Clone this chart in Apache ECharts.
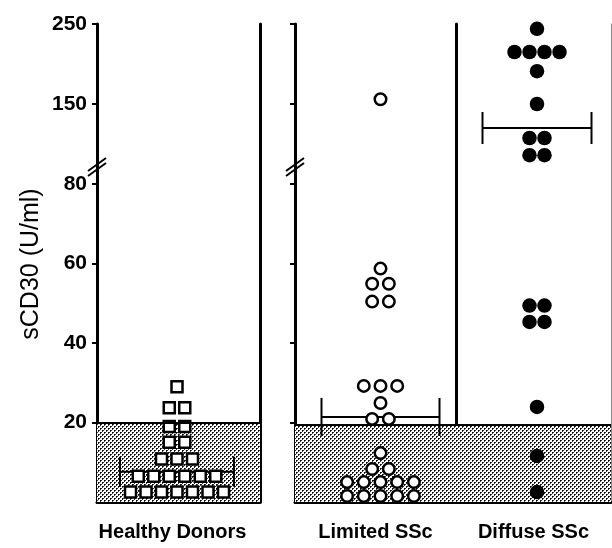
<!DOCTYPE html>
<html>
<head>
<meta charset="utf-8">
<script src="https://cdn.jsdelivr.net/npm/echarts@6/dist/echarts.min.js"></script>
<style>
  html, body { margin: 0; padding: 0; background: #fff; }
  #chart { width: 612px; height: 548px; }
</style>
</head>
<body>
<div id="chart"></div>
<script>
// values (U/ml), one entry per subject
var groupNames = ['Healthy Donors', 'Limited SSc', 'Diffuse SSc']
var healthyValues = [2.5, 2.5, 2.5, 2.5, 2.5, 2.5, 2.5, 6.5, 6.5, 6.5, 6.5, 6.5, 6.5,
  10.8, 10.8, 10.8, 15, 15, 19, 19, 23.7, 23.7, 29]
var limitedValues = [1.5, 1.5, 1.5, 1.5, 1.5, 5, 5, 5, 5, 5, 8.3, 8.3, 12.3,
  20.9, 20.9, 24.9, 29.2, 29.2, 29.2, 50.4, 50.4, 54.9, 54.9, 58.7, 156]
var diffuseValues = [2.5, 11.6, 23.9, 45.3, 45.3, 49.4, 49.4, 86, 86, 107.5, 107.5,
  150, 191, 215, 215, 215, 215, 244]
var meanValues = [7.6, 21.4, 120]
var normalLimits = [20, 19.5, 19.5]
var upperTicks = [150, 250]
var lowerTicks = [20, 40, 60, 80]

// axis break: lower part 0..84, upper part 70..250
var lowerMax = 84
var upperMin = 70
var upperMax = 250

var panels = [
  {left: 97, width: 163, center: 80, spacing: 15.5, symbol: 'rect', size: 11, fill: '#fff', border: 2.5, barHalf: 57, capHalf: 15},
  {left: 295, width: 161, center: 85.5, spacing: 16.7, symbol: 'circle', size: 11.5, fill: '#fff', border: 2.5, barHalf: 59, capHalf: 19},
  {left: 456, width: 155, center: 81, spacing: 15, symbol: 'circle', size: 14.5, fill: '#000', border: 0, barHalf: 54.5, capHalf: 16}
]
var plotTop = 24
var upperHeight = 144
var lowerHeight = 334
var breakY = plotTop + upperHeight

function stipple() {
  var c = document.createElement('canvas')
  c.width = 4
  c.height = 4
  var ctx = c.getContext('2d')
  ctx.fillStyle = '#fff'
  ctx.fillRect(0, 0, 4, 4)
  ctx.fillStyle = '#333'
  ctx.fillRect(1, 0, 1, 1)
  ctx.fillRect(0, 1, 1, 1)
  ctx.fillRect(3, 2, 1, 1)
  ctx.fillRect(2, 3, 1, 1)
  ctx.fillStyle = '#000'
  ctx.fillRect(0, 0, 1, 1)
  ctx.fillRect(2, 2, 1, 1)
  return c
}
var pattern = {image: stipple(), repeat: 'repeat'}

// lay equal values side by side in a row, centred on the group
function swarm(values, center, spacing) {
  var rows = {}
  var order = []
  values.forEach(function(v) {
    if (!rows[v]) { rows[v] = []; order.push(v) }
    rows[v].push(v)
  })
  var pts = []
  order.forEach(function(k) {
    var r = rows[k]
    r.forEach(function(v, i) {
      pts.push([center + (i - (r.length - 1) / 2) * spacing, v])
    })
  })
  return pts
}

var allValues = [healthyValues, limitedValues, diffuseValues]
var font = 'Liberation Sans, Arial, sans-serif'

var grid = [], xAxis = [], yAxis = [], series = []
panels.forEach(function(p, k) {
  var gu = k * 2, gl = k * 2 + 1
  grid.push({left: p.left, width: p.width, top: plotTop, height: upperHeight})
  grid.push({left: p.left, width: p.width, top: breakY, height: lowerHeight})

  xAxis.push({gridIndex: gu, type: 'value', min: 0, max: p.width, show: false})
  xAxis.push({
    gridIndex: gl, type: 'value', min: 0, max: p.width,
    name: groupNames[k], nameLocation: 'middle', nameGap: 20,
    nameTextStyle: {fontFamily: font, fontWeight: 'bold', fontSize: 20, color: '#000',
      padding: k === 0 ? [0, 12, 0, 0] : 0},
    axisLine: {onZero: false, lineStyle: {color: '#000', width: 3}},
    axisTick: {show: false}, axisLabel: {show: false}, splitLine: {show: false}
  })

  var showTicks = k < 2
  var labelStyle = {show: k === 0, fontFamily: font, fontWeight: 'bold', fontSize: 21, color: '#000', margin: 10}
  yAxis.push({
    gridIndex: gu, type: 'value', min: upperMin, max: upperMax, position: 'left',
    axisLine: {show: true, lineStyle: {color: '#000', width: 3}},
    axisTick: {show: showTicks, length: 5, lineStyle: {width: 2}, customValues: upperTicks},
    axisLabel: Object.assign({customValues: upperTicks}, labelStyle),
    splitLine: {show: false}
  })
  yAxis.push({
    gridIndex: gl, type: 'value', min: 0, max: lowerMax, position: 'left',
    axisLine: {show: true, lineStyle: {color: '#000', width: 3}},
    axisTick: {show: showTicks, length: 5, lineStyle: {width: 2}, customValues: lowerTicks},
    axisLabel: Object.assign({customValues: lowerTicks}, labelStyle),
    splitLine: {show: false}
  })

  var pts = swarm(allValues[k], p.center, p.spacing)
  var up = pts.filter(function(d) { return d[1] > lowerMax })
  var low = pts.filter(function(d) { return d[1] <= lowerMax })
  var mark = {
    type: 'scatter', symbol: p.symbol, symbolSize: p.size, z: 4,
    itemStyle: {color: p.fill, borderColor: '#000', borderWidth: p.border, opacity: 1}
  }
  series.push(Object.assign({}, mark, {xAxisIndex: gu, yAxisIndex: gu, data: up}))
  series.push(Object.assign({}, mark, {
    xAxisIndex: gl, yAxisIndex: gl, data: low,
    markArea: {silent: true, itemStyle: {color: pattern},
      data: [[{yAxis: 0}, {yAxis: normalLimits[k]}]]},
    markLine: {silent: true, symbol: 'none', label: {show: false},
      lineStyle: {color: '#000', width: 2, type: 'solid'},
      data: [{yAxis: normalLimits[k]}]}
  }))

  // mean bar with end caps
  var inUpper = meanValues[k] > lowerMax
  series.push({
    type: 'custom', z: 3,
    xAxisIndex: inUpper ? gu : gl, yAxisIndex: inUpper ? gu : gl,
    data: [[p.center, meanValues[k]]],
    renderItem: function(params, api) {
      var c = api.coord([api.value(0), api.value(1)])
      var st = {stroke: '#000', lineWidth: 2}
      return {type: 'group', children: [
        {type: 'line', shape: {x1: c[0] - p.barHalf, y1: c[1], x2: c[0] + p.barHalf, y2: c[1]}, style: st},
        {type: 'line', shape: {x1: c[0] - p.barHalf, y1: c[1] - p.capHalf, x2: c[0] - p.barHalf, y2: c[1] + p.capHalf}, style: st},
        {type: 'line', shape: {x1: c[0] + p.barHalf, y1: c[1] - p.capHalf, x2: c[0] + p.barHalf, y2: c[1] + p.capHalf}, style: st}
      ]}
    }
  })
})

// right-hand borders: healthy panel and far right edge
;[0, 1].forEach(function(g) {
  yAxis.push({gridIndex: g, type: 'value', min: g === 0 ? upperMin : 0, max: g === 0 ? upperMax : lowerMax,
    position: 'right', axisLine: {show: true, lineStyle: {color: '#000', width: 3}},
    axisTick: {show: false}, axisLabel: {show: false}, splitLine: {show: false}})
})
;[4, 5].forEach(function(g) {
  yAxis.push({gridIndex: g, type: 'value', min: g === 4 ? upperMin : 0, max: g === 4 ? upperMax : lowerMax,
    position: 'right', axisLine: {show: true, lineStyle: {color: '#888', width: 1}},
    axisTick: {show: false}, axisLabel: {show: false}, splitLine: {show: false}})
})

function breakMark(x) {
  return {type: 'group', x: x, y: breakY, z: 100, children: [
    {type: 'polygon', shape: {points: [[-8, 3], [8, -9], [8, -3], [-8, 9]]}, style: {fill: '#fff'}},
    {type: 'line', shape: {x1: -9, y1: 3, x2: 9, y2: -10}, style: {stroke: '#000', lineWidth: 2}},
    {type: 'line', shape: {x1: -9, y1: 8, x2: 9, y2: -5}, style: {stroke: '#000', lineWidth: 2}}
  ]}
}

var chart = echarts.init(document.getElementById('chart'), null, {renderer: 'canvas'})
chart.setOption({
  animation: false,
  backgroundColor: '#fff',
  grid: grid,
  xAxis: xAxis,
  yAxis: yAxis,
  series: series,
  graphic: [
    breakMark(panels[0].left),
    breakMark(panels[1].left),
    {type: 'text', x: 31, y: 264, rotation: Math.PI / 2, z: 100,
      style: {text: 'sCD30 (U/ml)', font: '25px ' + font, fill: '#000', align: 'center', verticalAlign: 'middle'}}
  ]
})
</script>
</body>
</html>
